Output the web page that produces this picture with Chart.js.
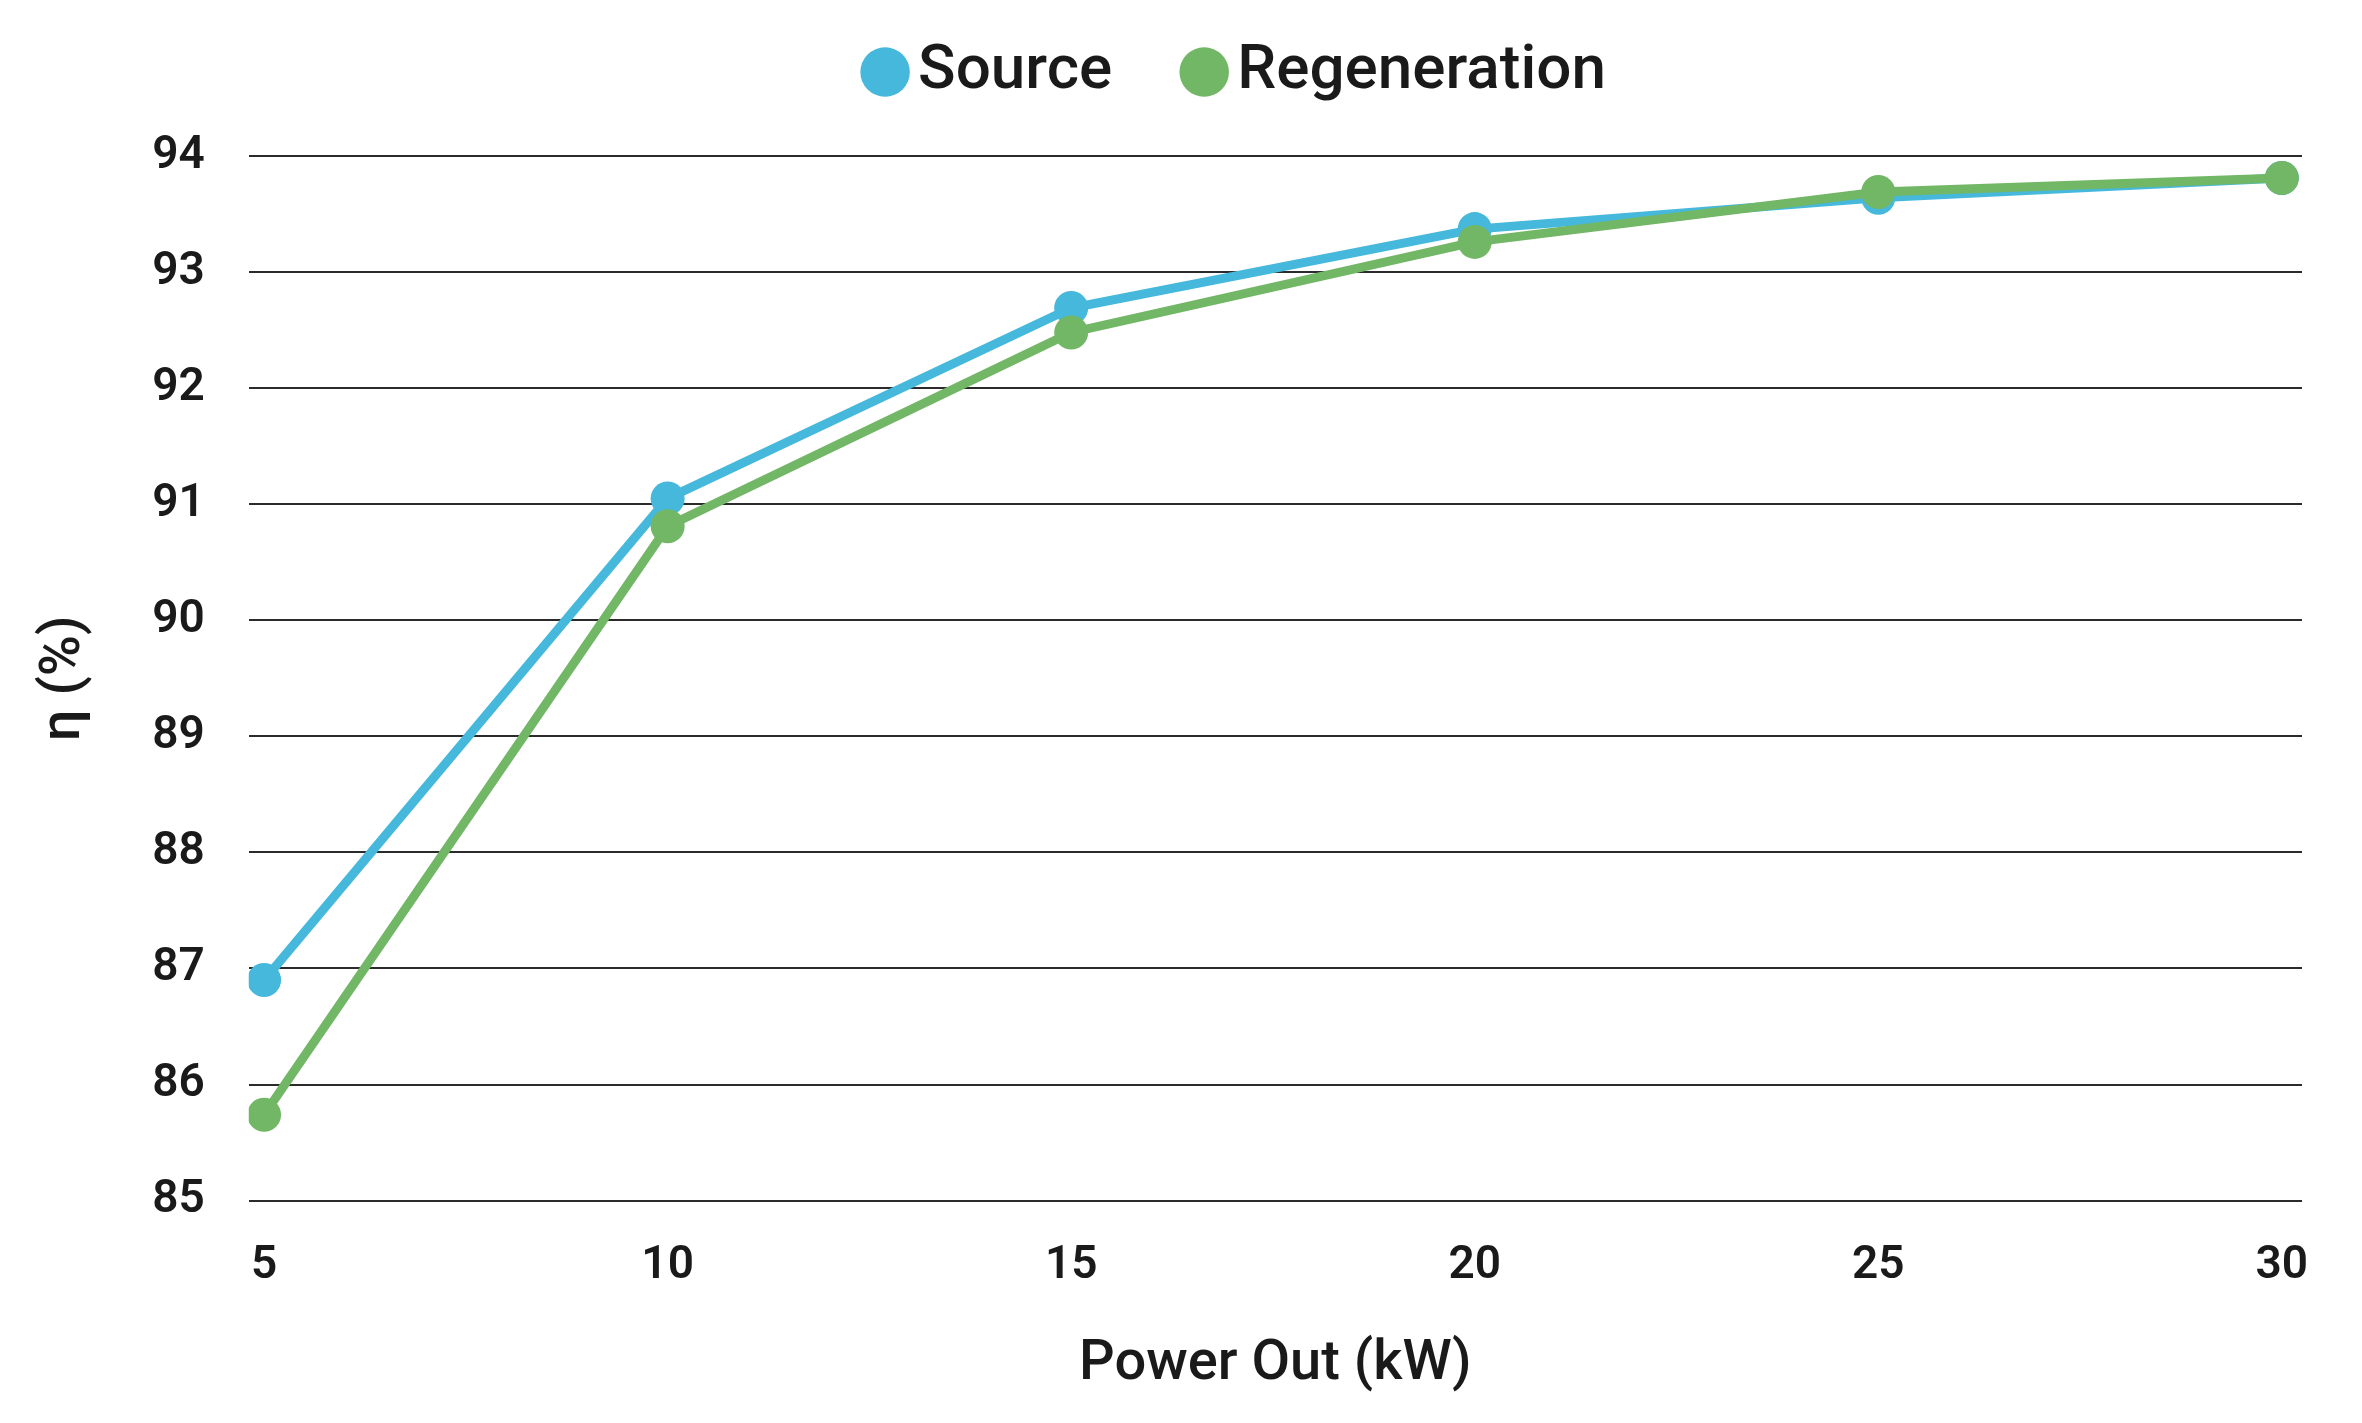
<!DOCTYPE html>
<html>
<head>
<meta charset="utf-8">
<script src="https://cdn.jsdelivr.net/npm/chart.js@4/dist/chart.umd.min.js"></script>
<style>
  html, body { margin: 0; padding: 0; background: #fff; }
  #wrap { width: 2362px; height: 1423px; }
</style>
</head>
<body>
<div id="wrap"><canvas id="effChart"></canvas></div>
<script>
const powerOut = [5, 10, 15, 20, 25, 30];
const sourceEff = [86.9, 91.05, 92.69, 93.37, 93.64, 93.81];
const regenEff = [85.74, 90.81, 92.48, 93.26, 93.69, 93.81];
const yTicks = [85, 86, 87, 88, 89, 90, 91, 92, 93, 94];

const blue = "#45b8dc";
const green = "#72b766";
const textColor = "#1a1a1a";
const fontFamily = "Roboto, 'DejaVu Sans', sans-serif";

const toPoints = (vals) => vals.map((v, i) => ({ x: powerOut[i], y: v }));

// legend: fixed height and a small shift, the library centres it on the whole canvas
const legendTweak = {
  id: 'legendTweak',
  beforeInit(chart) {
    const legend = chart.legend;
    const fit = legend.fit;
    legend.fit = function () {
      fit.call(this);
      this.height = 156;
    };
    const draw = legend.draw;
    legend.draw = function () {
      const ctx = this.ctx;
      ctx.save();
      ctx.translate(78, -49);
      draw.call(this);
      ctx.restore();
    };
  },
};

const chartData = {
  type: 'line',
  data: {
    datasets: [
      {
        label: "Source",
        data: toPoints(sourceEff),
        borderColor: blue,
        backgroundColor: blue,
        pointBackgroundColor: blue,
        borderWidth: 9,
        pointRadius: 17,
        pointBorderWidth: 0,
        order: 1,
      },
      {
        label: "Regeneration",
        data: toPoints(regenEff),
        borderColor: green,
        backgroundColor: green,
        pointBackgroundColor: green,
        borderWidth: 9,
        pointRadius: 17,
        pointBorderWidth: 0,
        order: 0,
      },
    ],
  },
  options: {
    responsive: true,
    maintainAspectRatio: false,
    animation: false,
    layout: { padding: { left: 31, right: 60, top: 0, bottom: 24 } },
    plugins: {
      tooltip: { enabled: false },
      legend: {
        position: 'top',
        labels: {
          usePointStyle: true,
          pointStyle: 'circle',
          boxHeight: 35,
          boxWidth: 4,
          padding: 90,
          color: textColor,
          font: { family: fontFamily, size: 62, weight: 500 },
          sort: (a, b) => a.datasetIndex - b.datasetIndex,
        },
      },
    },
    scales: {
      x: {
        type: 'linear',
        min: 4.81,
        max: 30.25,
        afterBuildTicks: (axis) => { axis.ticks = powerOut.map(v => ({ value: v })); },
        grid: { display: false, drawTicks: false },
        border: { display: false },
        ticks: {
          padding: 38,
          maxRotation: 0,
          color: textColor,
          font: { family: fontFamily, size: 46, weight: 600 },
        },
        title: {
          display: true,
          text: "Power Out (kW)",
          color: textColor,
          padding: { top: 0, bottom: 0 },
          font: { family: fontFamily, size: 56, weight: 500 },
        },
      },
      y: {
        min: 85,
        max: 94,
        afterBuildTicks: (axis) => { axis.ticks = yTicks.map(v => ({ value: v })); },
        grid: { color: "#2b2b2b", lineWidth: 2, drawTicks: false },
        border: { display: false },
        ticks: {
          padding: 44,
          color: textColor,
          font: { family: fontFamily, size: 46, weight: 600 },
        },
        title: {
          display: true,
          text: "η (%)",
          color: textColor,
          padding: { top: 0, bottom: 10 },
          font: { family: fontFamily, size: 56, weight: 500 },
        },
      },
    },
  },
  plugins: [legendTweak],
};

const effChart = new Chart(document.getElementById("effChart"), chartData);
</script>
</body>
</html>
